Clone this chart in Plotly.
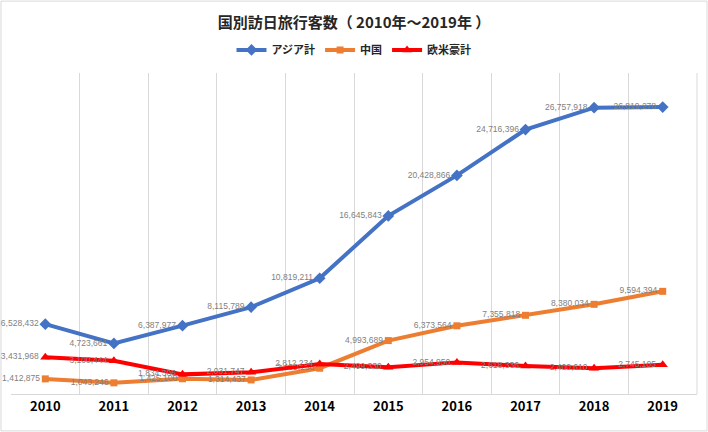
import plotly.graph_objects as go

years = ["2010", "2011", "2012", "2013", "2014", "2015", "2016", "2017", "2018", "2019"]
asia = [6528432, 4723661, 6387977, 8115789, 10819211, 16645843, 20428866, 24716396, 26757918, 26819278]
china = [1412875, 1043246, 1425100, 1314437, 2409158, 4993689, 6373564, 7355818, 8380034, 9594394]
euam = [3431968, 3100444, 1834306, 2031747, 2812234, 2499330, 2954950, 2618336, 2400610, 2745105]

FONT = "Noto Sans CJK JP"
LABEL_COLOR = "#7f7f7f"


def fmt(v):
    return f"{v:,}"


fig = go.Figure()
series = [
    ("アジア計", asia, "#4472C4", "diamond", 9),
    ("中国", china, "#ED7D31", "square", 7),
    ("欧米豪計", euam, "#FF0000", "triangle-up", 9),
]
for name, vals, color, sym, msz in series:
    fig.add_trace(go.Scatter(
        x=years, y=vals, name=f"<b>{name}</b>", mode="lines+markers+text",
        line=dict(color=color, width=4),
        marker=dict(symbol=sym, size=msz, color=color),
        text=[fmt(v) for v in vals], textposition="middle left",
        textfont=dict(family="Liberation Sans", size=8.5, color=LABEL_COLOR),
        cliponaxis=False,
    ))

fig.update_layout(
    width=708, height=432,
    margin=dict(l=11, r=11, t=73, b=38, autoexpand=False),
    paper_bgcolor="white", plot_bgcolor="white",
    font=dict(family=FONT),
    title=dict(text="<b>国別訪日旅行客数（ 2010年～2019年 ）</b>", x=0.5, xanchor="center",
               y=0.948, yanchor="middle", font=dict(family=FONT, size=15, color="#262626")),
    legend=dict(orientation="h", x=0.5, xanchor="center", y=1.072, yanchor="middle",
                font=dict(family=FONT, size=11, color="#262626"), itemwidth=30,
                bgcolor="rgba(0,0,0,0)"),
    showlegend=True,
)

fig.update_xaxes(type="category", tickson="boundaries", showgrid=True, gridcolor="#d9d9d9",
                 gridwidth=1, showline=True, linecolor="#d9d9d9", mirror=False, ticks="",
                 tickfont=dict(family=FONT, size=13, color="#000000"),
                 tickprefix="<b>", ticksuffix="</b>", range=[-0.5, 9.5])
fig.update_yaxes(range=[0, 30000000], showgrid=False, showticklabels=False, zeroline=False,
                 showline=False)

fig.add_shape(type="rect", xref="paper", yref="paper", x0=-0.0146, x1=1.0146, y0=-0.115, y1=1.224,
              line=dict(color="#d9d9d9", width=1), fillcolor="rgba(0,0,0,0)", layer="below")
fig.add_shape(type="line", xref="paper", yref="paper", x0=1, x1=1, y0=0, y1=1,
              line=dict(color="#d9d9d9", width=1), layer="below")

fig.write_html("out.html", config={"displayModeBar": False},
               post_script="document.body.style.margin='0';document.body.style.padding='0';")
